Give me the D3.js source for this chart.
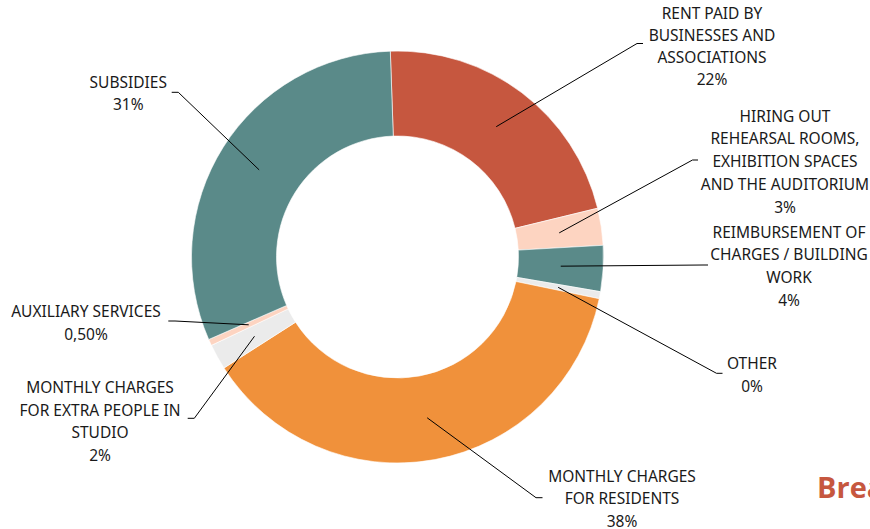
<!DOCTYPE html>
<html>
<head>
<meta charset="utf-8">
<script src="https://cdn.jsdelivr.net/npm/d3@7"></script>
<style>
  body { margin: 0; background: #fff; overflow: hidden; }
  svg { display: block; }
</style>
</head>
<body>
<svg width="870" height="529"></svg>
<script>
// slices, clockwise from the top
const categories = [
  "RENT PAID BY|BUSINESSES AND|ASSOCIATIONS",
  "HIRING OUT|REHEARSAL ROOMS,|EXHIBITION SPACES|AND THE AUDITORIUM",
  "REIMBURSEMENT OF|CHARGES / BUILDING|WORK",
  "OTHER",
  "MONTHLY CHARGES|FOR RESIDENTS",
  "MONTHLY CHARGES|FOR EXTRA PEOPLE IN|STUDIO",
  "AUXILIARY SERVICES",
  "SUBSIDIES"
];
const values = [21.75, 2.9, 3.6, 0.55, 37.7, 2.0, 0.5, 31.0];
const pctLabels = ["22%", "3%", "4%", "0%", "38%", "2%", "0,50%", "31%"];
const colors = ["#C6573F", "#FDD4C1", "#5A8A89", "#EBEBEB", "#F0913B", "#EBEBEB", "#FDD4C1", "#5A8A89"];

// label layout: text centre, first line centre, elbow of leader, end of leader
const labelLayout = [
  { tx: 712, ty: 13,  gap: 22.3, ex: 637, ey: 43.5, hx: 643 },
  { tx: 785, ty: 116, gap: 22.8, ex: 692.5, ey: 160, hx: 698 },
  { tx: 789, ty: 232, gap: 22.8, ex: 703, ey: 265, hx: 708 },
  { tx: 752, ty: 363.5, gap: 23.3, ex: 716.5, ey: 373.3, hx: 722.5 },
  { tx: 622, ty: 476, gap: 22.8, ex: 536, ey: 497.7, hx: 542.5 },
  { tx: 100, ty: 387.5, gap: 22.6, ex: 194.3, ey: 418.3, hx: 187.7 },
  { tx: 86,  ty: 311, gap: 23.3, ex: 175, ey: 321, hx: 168.3 },
  { tx: 128.3, ty: 82.7, gap: 21.6, ex: 178.3, ey: 92.3, hx: 171.7 }
];

const svg = d3.select("svg");
const cx = 397.5, cy = 257;
const outerR = 206, innerR = 121;

const pie = d3.pie()
  .sort(null)
  .value(d => d)
  .startAngle(-2 * Math.PI / 180)
  .endAngle(-2 * Math.PI / 180 + 2 * Math.PI);

const arc = d3.arc().innerRadius(innerR).outerRadius(outerR);
const arcs = pie(values);

const g = svg.append("g").attr("transform", `translate(${cx},${cy})`);

g.selectAll("path.slice")
  .data(arcs)
  .enter()
    .append("path")
    .attr("class", "slice")
    .attr("d", arc)
    .attr("fill", (d, i) => colors[i])
    .attr("stroke", "#fff")
    .attr("stroke-width", 0.6);

// leader lines
arcs.forEach((d, i) => {
  let c = arc.centroid(d);
  let L = labelLayout[i];
  svg.append("polyline")
    .attr("points", [[c[0] + cx, c[1] + cy], [L.ex, L.ey], [L.hx, L.ey]].map(p => p.join(",")).join(" "))
    .attr("fill", "none")
    .attr("stroke", "#000")
    .attr("stroke-width", 1);
});

// labels
categories.forEach((name, i) => {
  let L = labelLayout[i];
  let lines = name.split("|").concat([pctLabels[i]]);
  let t = svg.append("text")
    .attr("text-anchor", "middle")
    .attr("font-family", "'Noto Sans', sans-serif")
    .attr("font-size", 15.5)
    .attr("fill", "#1a1a1a");
  lines.forEach((s, k) => {
    t.append("tspan")
      .attr("x", L.tx)
      .attr("y", L.ty + k * L.gap + 5.5)
      .text(s);
  });
});

// title peeking in from the right edge
svg.append("text")
  .attr("x", 817)
  .attr("y", 498)
  .attr("font-family", "'Open Sans', sans-serif")
  .attr("font-weight", "bold")
  .attr("font-size", 29)
  .attr("fill", "#C6573F")
  .text("Breakdown");
</script>
</body>
</html>
